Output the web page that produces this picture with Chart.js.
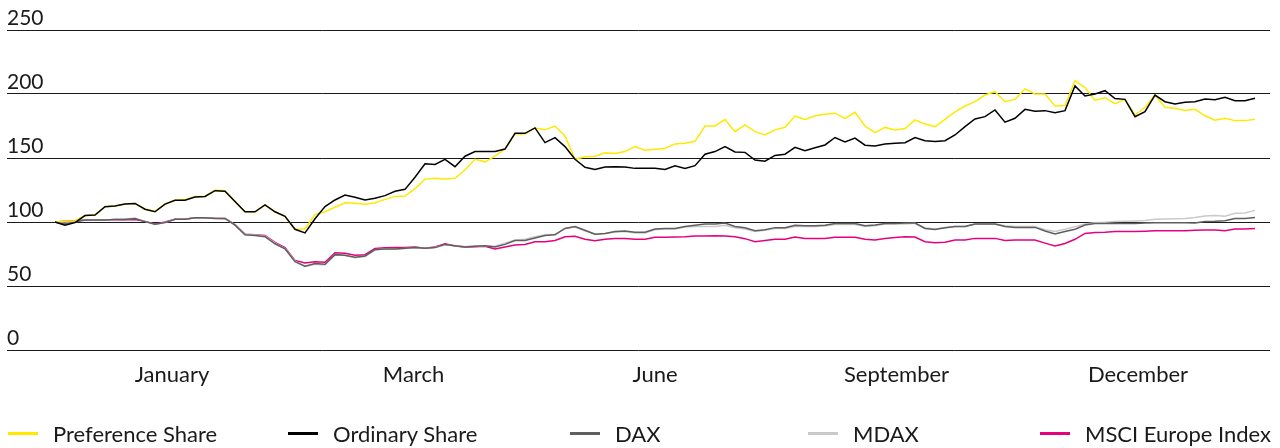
<!DOCTYPE html>
<html>
<head>
<meta charset="utf-8">
<script src="https://cdn.jsdelivr.net/npm/chart.js@4.4.1/dist/chart.umd.min.js"></script>
<style>
  html, body { margin: 0; padding: 0; background: #fff; }
  #wrap { position: relative; width: 1280px; height: 448px; }
  #c { position: absolute; left: 0; top: 0; }
  #legend { position: absolute; left: 0; top: 420px; width: 1280px; height: 28px; font-family: Lato, sans-serif; font-size: 22px; color: #1a1a1a; }
  .li { position: absolute; top: 0; height: 28px; line-height: 28px; white-space: nowrap; }
  .sw { position: absolute; top: 12px; width: 30px; height: 3px; }
  .tx { position: absolute; left: 45px; top: 0; }
</style>
</head>
<body>
<div id="wrap">
  <canvas id="c" width="1280" height="448"></canvas>
  <div id="legend"></div>
</div>
<script>
// ---- data ----
const seriesNames = ['Preference Share', 'Ordinary Share', 'DAX', 'MDAX', 'MSCI Europe Index'];
const monthLabels = ['January', 'March', 'June', 'September', 'December'];
const monthTickAt = [11.7, 35.85, 60, 84.15, 108.3];
const yTicks = [0, 50, 100, 150, 200, 250];

const preference = [
  100, 100.5, 101, 105, 105.5, 112, 112.5, 114, 114.5, 110, 108.5, 114, 117, 117.5, 120, 120, 125, 124.5, 116, 108, 108,
  113.3, 108, 104.5, 94.3, 94.5, 106, 108, 111.5, 115, 114.6, 113.8, 115, 117.7, 120, 120.3, 126, 133.5, 134.1, 133.6, 134.1,
  140.6, 149, 147, 151.4, 157, 168.8, 168.8, 173.5, 172, 175, 167.2, 149, 151, 151.4, 154, 153.6, 155, 158.9, 156, 156.8,
  157.5, 161, 161.5, 163, 175, 175, 180, 170.6, 175.8, 170.6, 168, 172, 174, 182.8, 180.2, 183, 184.1, 185, 181, 185.7,
  175, 169.8, 173.9, 171.9, 173, 179.7, 176.5, 174.5, 180.2, 186, 190.6, 194, 199.2, 201.8, 194, 195.8, 204, 200, 200, 190.6,
  191, 210.5, 205, 195, 197.1, 192.5, 195.8, 183.6, 189.6, 199.2, 189.6, 188.8, 187.2, 188, 183, 179.5, 181, 179.2, 179.2, 180.2
];
const ordinary = [
  100, 97.5, 99.5, 105, 105.5, 112, 112.5, 114, 114.5, 110, 108, 114, 117, 117, 119.5, 120, 124.5, 124, 116, 108, 108,
  113.3, 108, 104.5, 94.3, 91.5, 102.5, 112, 117.2, 121, 119.3, 117.2, 118.5, 120.6, 124, 125.5, 135, 145.5, 145, 149, 143.2,
  151.4, 155, 155, 155, 157, 169.3, 169.3, 173.5, 162, 165.9, 158.9, 149, 142.7, 141.1, 143, 143.2, 143, 141.9, 141.9, 141.9,
  141.1, 144, 141.9, 144, 153, 155, 158.9, 154.7, 154.4, 148.4, 147.5, 152, 153, 158.3, 155.7, 158, 160.2, 166, 162.5, 165.5,
  160, 159.4, 161, 161.5, 162, 165.9, 163.5, 162.8, 163.5, 168, 174.5, 180.5, 182.3, 187.5, 178, 181, 188, 186.5, 187, 185.4,
  187, 206.3, 198.5, 200, 202.6, 196.5, 195.8, 182.3, 186.2, 199.2, 194, 192.2, 193.5, 194, 196, 195.5, 197.5, 194.8, 194.8, 196.6
];
const dax = [
  100, 98.4, 100, 101.5, 101.5, 101.5, 102, 102, 102.8, 100.3, 98.2, 99.5, 102.1, 102.1, 103.4, 103.4, 102.8, 102.8, 97.5, 90, 89.5,
  88.5, 83, 79, 69, 65.5, 67.5, 67, 74.5, 74, 72.5, 73.5, 78.5, 79, 79, 79.5, 80, 79.5, 80, 82.5, 81.5,
  80.5, 81, 81.5, 80.5, 82.5, 85.5, 85.5, 87.5, 89.5, 90, 95, 96.4, 93.5, 90.5, 91, 92.5, 93, 92, 92, 94.5,
  95, 95, 96.5, 97.5, 98.4, 98.4, 99.2, 96.5, 95.5, 93.2, 94, 95.6, 95.6, 97.5, 97.1, 97.1, 97.5, 98.9, 98.9, 98.9,
  97, 97.6, 98.9, 98.9, 99.2, 99.2, 95, 94.2, 95.5, 96.5, 96.5, 98.4, 98.4, 98.4, 96.5, 95.8, 95.8, 95.8, 93, 90.6,
  92.5, 94.3, 97.6, 98.9, 98.9, 98.9, 98.9, 98.9, 99.3, 99.5, 99.5, 99.5, 99.5, 99.3, 100.3, 100.5, 101, 102.8, 102.8, 103.6
];
const mdax = [
  100, 99, 100.5, 101.5, 101.5, 101.5, 102, 102.5, 103, 100.5, 98, 99.5, 102.1, 102.1, 103.4, 103.4, 103, 102.8, 97.8, 90.3, 89.8,
  88.8, 83.5, 79.3, 69.5, 65, 67, 66.5, 74.5, 73.8, 72, 73, 78, 79, 78.8, 79.3, 79.8, 79.5, 80, 82, 81.5,
  80.8, 81.2, 81.5, 81, 83.5, 86, 86.5, 88.5, 90, 90.5, 95, 96, 93, 90.5, 91, 92, 92.5, 91.5, 91.5, 94,
  94.5, 94.5, 96, 96.5, 96.4, 96.5, 97.5, 95.5, 94.5, 92.5, 93.5, 95, 95, 96.5, 96.5, 96.5, 96.8, 98, 98, 98,
  96.5, 97, 98.5, 98.5, 98.5, 99, 95.5, 94.5, 95.5, 96.5, 96.5, 98.4, 98.4, 98.4, 97, 96.5, 96.5, 96.5, 94, 92.5,
  94.3, 96.4, 98.4, 99.5, 99.8, 100.3, 100.5, 100.8, 101.2, 102.1, 102.3, 102.5, 102.8, 103.5, 104.7, 105, 104.5, 106.8, 107, 109.1
];
const msci = [
  100, 100.5, 101, 101.5, 101.5, 101.5, 102, 101.8, 102, 100.5, 98.5, 100, 102.1, 102.2, 103.4, 103.4, 103, 102.8, 98, 90.5, 90,
  89.5, 84, 80, 70, 68, 69, 68.5, 76, 75.5, 74, 74.5, 79.4, 79.8, 80, 80, 80.5, 79.5, 80.5, 83, 81.2,
  80.5, 80.7, 81, 79, 80.5, 82, 82.5, 84.6, 84.6, 85.5, 88.5, 88.8, 86.5, 85.4, 86.5, 87.2, 87.2, 86.5, 86.5, 88,
  88, 88.2, 88.5, 89, 89, 89.2, 89, 88.5, 87, 84.6, 85.5, 86.5, 86.5, 88.3, 87.2, 87.2, 87.2, 88, 88, 88,
  86.5, 86, 87.2, 87.8, 88.5, 88.2, 84.6, 83.8, 84.2, 85.9, 85.9, 87.2, 87.2, 87.2, 85.5, 85.9, 85.9, 85.9, 83.5, 81.2,
  83.2, 86.5, 91.1, 91.7, 91.9, 92.5, 92.5, 92.5, 92.8, 93.2, 93.2, 93.2, 93.2, 93.5, 93.8, 93.8, 93.2, 94.5, 94.5, 95
];

// ---- styles ----
const colors = ['#ffe900', '#000000', '#5f5f5f', '#c9c9c9', '#e6007e'];
const drawOrder = [1, 0, 3, 4, 5];
const allSeries = [preference, ordinary, dax, mdax, msci];

const toXY = arr => arr.map((v, i) => ({ x: i, y: v }));

const datasets = allSeries.map((arr, k) => ({
  label: seriesNames[k],
  data: toXY(arr),
  borderColor: colors[k],
  backgroundColor: colors[k],
  borderWidth: 1.5,
  pointRadius: 0,
  tension: 0,
  fill: false,
  order: drawOrder[k]
}));

Chart.defaults.font.family = 'Lato, sans-serif';
Chart.defaults.font.size = 22;
Chart.defaults.color = '#1a1a1a';

new Chart(document.getElementById('c'), {
  type: 'line',
  data: { datasets },
  options: {
    responsive: false,
    animation: false,
    layout: { padding: { left: 7, right: 10, top: 30, bottom: 58 } },
    plugins: { legend: { display: false }, tooltip: { enabled: false } },
    scales: {
      x: {
        type: 'linear',
        min: -4.8,
        max: 121.5,
        afterBuildTicks: s => { s.ticks = monthTickAt.map(v => ({ value: v })); },
        afterFit: s => { s.height = 40; },
        grid: { display: false, drawTicks: false },
        border: { display: false },
        ticks: {
          autoSkip: false,
          maxRotation: 0,
          padding: 12,
          font: { size: 22 },
          callback: (v, i) => monthLabels[i]
        }
      },
      y: {
        min: 0,
        max: 250,
        afterBuildTicks: s => { s.ticks = yTicks.map(v => ({ value: v })); },
        afterFit: s => { s.width = 0; },
        grid: { color: '#1a1a1a', lineWidth: 1, drawTicks: false },
        border: { display: false },
        ticks: { mirror: true, padding: 0, labelOffset: -12, font: { size: 21 } }
      }
    }
  }
});

// ---- legend (HTML) ----
const legendX = [8, 288, 570, 808, 1040];
const lg = document.getElementById('legend');
seriesNames.forEach((name, k) => {
  const it = document.createElement('div');
  it.className = 'li';
  it.style.left = legendX[k] + 'px';
  const sw = document.createElement('div');
  sw.className = 'sw';
  sw.style.background = colors[k];
  const tx = document.createElement('span');
  tx.className = 'tx';
  tx.textContent = name;
  it.appendChild(sw); it.appendChild(tx);
  lg.appendChild(it);
});
</script>
</body>
</html>
